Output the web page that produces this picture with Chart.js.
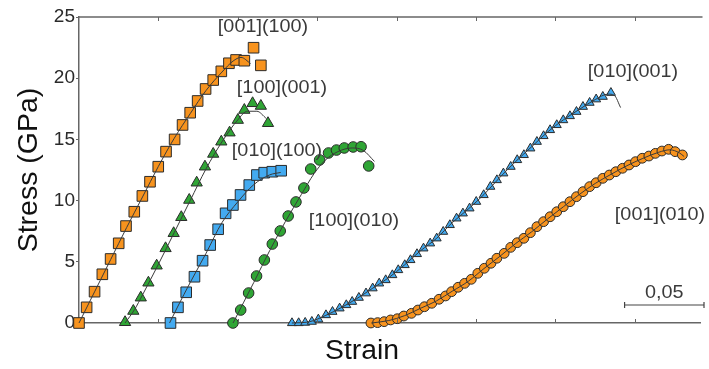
<!DOCTYPE html>
<html>
<head>
<meta charset="utf-8">
<script src="https://cdn.jsdelivr.net/npm/chart.js@4/dist/chart.umd.min.js"></script>
<style>
html,body{margin:0;padding:0;background:#fff;}
#wrap{width:709px;height:369px;}
</style>
</head>
<body>
<div id="wrap"><canvas id="c" width="709" height="369"></canvas></div>
<script>
// ---- Data (strain, stress GPa) ----
const s1Strain = [0,0.0048,0.0098,0.0147,0.0199,0.0250,0.0296,0.0348,0.0399,0.0447,0.0499,0.0548,0.0602,0.0652,0.0700,0.0747,0.0797,0.0845,0.0896,0.0944,0.0989,0.1041,0.1099,0.1145];
const s1Stress = [0,1.28,2.56,3.98,5.23,6.51,7.92,9.09,10.38,11.54,12.77,14.0,15.0,16.18,17.18,18.14,19.12,19.85,20.56,21.22,21.49,21.43,22.49,21.05];
const f1Strain = [0,0.01,0.02,0.03,0.04,0.05,0.06,0.07,0.08,0.09,0.097,0.102,0.108];
const f1Stress = [0,2.6,5.2,7.8,10.3,12.8,15.1,17.1,19.0,20.5,21.4,21.7,21.2];

const s2Strain = [0.0290,0.0342,0.0389,0.0437,0.0489,0.0545,0.0596,0.0644,0.0694,0.0741,0.0793,0.0845,0.0896,0.0948,0.1000,0.1041,0.1093,0.1145,0.1190];
const s2Stress = [0.06,0.98,2.07,3.29,4.68,6.10,7.33,8.64,10.05,11.46,12.77,13.81,14.81,15.55,16.58,17.40,17.95,17.73,16.32];
const f2Strain = [0.029,0.035,0.04,0.05,0.06,0.07,0.08,0.09,0.1,0.106,0.112,0.118];
const f2Stress = [0,1.1,2.3,4.8,7.4,10.0,12.6,14.8,16.6,17.3,17.3,16.7];

const s3Strain = [0.0576,0.0623,0.0675,0.0727,0.0778,0.0826,0.0876,0.0923,0.0969,0.1017,0.1072,0.1120,0.1166,0.1217,0.1273];
const s3Stress = [0,1.28,2.51,3.78,5.09,6.37,7.66,8.96,9.64,10.46,11.27,12.09,12.28,12.36,12.44];
const f3Strain = [0.057,0.062,0.07,0.08,0.09,0.1,0.11,0.12,0.127];
const f3Stress = [0,1.3,3.3,5.7,8.2,9.9,11.3,12.1,12.3];

const s4Strain = [0.0969,0.1018,0.1068,0.1118,0.1167,0.1217,0.1267,0.1317,0.1366,0.1416,0.1459,0.1515,0.1571,0.1621,0.1670,0.1726,0.1776,0.1824];
const s4Stress = [0,1.06,2.45,3.84,5.15,6.45,7.52,8.74,9.89,11.03,12.58,13.32,13.89,14.13,14.30,14.38,14.40,12.83];
const f4Strain = [0.097,0.11,0.12,0.13,0.14,0.148,0.155,0.163,0.172,0.179,0.186];
const f4Stress = [0,3.3,5.9,8.3,10.5,12.2,13.3,14.0,14.3,14.1,13.2];

const s5Strain = [0.1341,0.1383,0.1424,0.1466,0.1507,0.1555,0.1596,0.1641,0.1683,0.1720,0.1762,0.1807,0.1849,0.1890,0.1931,0.1973,0.2010,0.2051,0.2087,0.2128,0.2169,0.2211,0.2252,0.2293,0.2335,0.2377,0.2417,0.2459,0.2501,0.2548,0.2590,0.2631,0.2672,0.2718,0.2759,0.2801,0.2842,0.2883,0.2925,0.2966,0.3008,0.3049,0.3091,0.3132,0.3173,0.3215,0.3256,0.3298,0.3349];
const s5Stress = [0,0,0.03,0.11,0.30,0.65,0.92,1.20,1.47,1.74,2.07,2.43,2.84,3.24,3.51,3.92,4.33,4.74,5.15,5.64,6.10,6.51,6.92,7.46,8.01,8.55,8.96,9.37,9.91,10.46,11.14,11.68,12.23,12.77,13.32,13.73,14.27,14.81,15.28,15.77,16.18,16.58,16.91,17.26,17.67,18.00,18.28,18.49,18.81];
const f5Strain = [0.134,0.145,0.155,0.165,0.175,0.185,0.195,0.205,0.215,0.225,0.235,0.245,0.255,0.265,0.275,0.285,0.295,0.305,0.315,0.325,0.333,0.337,0.341];
const f5Stress = [0,0.1,0.6,1.25,2.0,2.85,3.7,4.75,5.9,6.9,8.2,9.3,10.5,11.9,13.2,14.4,15.6,16.6,17.45,18.25,18.7,18.6,17.6];

const s6Strain = [0.1838,0.1880,0.1921,0.1962,0.2004,0.2045,0.2093,0.2134,0.2175,0.2221,0.2267,0.2308,0.2346,0.2387,0.2428,0.2470,0.2511,0.2552,0.2594,0.2631,0.2677,0.2718,0.2759,0.2801,0.2842,0.2883,0.2925,0.2966,0.3008,0.3049,0.3091,0.3132,0.3173,0.3215,0.3256,0.3298,0.3339,0.3380,0.3422,0.3463,0.3504,0.3546,0.3588,0.3629,0.3670,0.3712,0.3753,0.3799];
const s6Stress = [0,0.03,0.11,0.25,0.35,0.57,0.79,1.06,1.33,1.61,1.94,2.21,2.56,2.92,3.24,3.57,4.06,4.47,4.88,5.29,5.69,6.18,6.56,6.92,7.38,7.87,8.28,8.68,9.09,9.50,9.91,10.32,10.73,11.14,11.46,11.82,12.09,12.36,12.64,12.91,13.18,13.46,13.64,13.86,14.05,14.19,14.00,13.73];
const f6Strain = [0.184,0.195,0.205,0.215,0.225,0.235,0.245,0.255,0.265,0.275,0.285,0.295,0.305,0.315,0.325,0.335,0.345,0.355,0.365,0.372,0.378,0.381];
const f6Stress = [0,0.2,0.6,1.2,1.8,2.6,3.4,4.45,5.45,6.5,7.45,8.5,9.5,10.5,11.4,12.15,12.85,13.45,13.95,14.15,13.9,13.6];

const seriesLabels = ['[001](100)','[100](001)','[010](100)','[100](010)','[010](001)','[001](010)'];
const yTicks = [0,5,10,15,20,25];
const xTickStep = 0.05;
const scaleBarValue = 0.05;
const scaleBarText = '0,05';
const xTitle = 'Strain';

// ---- build ----
const pts = (xs, ys) => xs.map((x, i) => ({x, y: ys[i]}));
const ORANGE = '#f7931e', GREEN = '#2fa535', BLUE = '#43aaf0', EDGE = '#2b2b2b', FIT = '#3a3a3a';
const FAM = '"Liberation Sans", Arial, sans-serif';

function markerDs(label, xs, ys, color, style, r) {
  return {label, data: pts(xs, ys), showLine: false, pointStyle: style, pointRadius: r,
    pointBackgroundColor: color, pointBorderColor: EDGE, pointBorderWidth: 1, order: 1, clip: false};
}
function fitDs(xs, ys) {
  return {label: 'fit', data: pts(xs, ys), showLine: true, pointRadius: 0, borderColor: FIT,
    borderWidth: 1, cubicInterpolationMode: 'monotone', order: 0, clip: false};
}

function wideText(ctx, t, cx, cy, sx) {
  ctx.save();
  ctx.translate(cx, cy);
  ctx.scale(sx, 1);
  ctx.fillText(t, 0, 0);
  ctx.restore();
}

const annot = {
  id: 'annot',
  afterDraw(chart) {
    const {ctx, chartArea: a, scales: {x, y}} = chart;
    ctx.save();
    // top border
    ctx.strokeStyle = '#666'; ctx.lineWidth = 1.5;
    ctx.beginPath(); ctx.moveTo(a.left, a.top); ctx.lineTo(a.right + 2, a.top); ctx.stroke();
    // inward x ticks top & bottom
    ctx.lineWidth = 1;
    for (let v = xTickStep; v <= x.max + 1e-9; v += xTickStep) {
      const px = Math.round(x.getPixelForValue(v)) + 0.5;
      ctx.beginPath();
      ctx.moveTo(px, a.top); ctx.lineTo(px, a.top + 4);
      ctx.moveTo(px, a.bottom); ctx.lineTo(px, a.bottom - 4);
      ctx.stroke();
    }
    // series labels
    ctx.fillStyle = '#3a3a3a';
    ctx.font = '18px ' + FAM;
    ctx.textAlign = 'center'; ctx.textBaseline = 'middle';
    const lp = [[263,27],[282,88],[277,151],[354,221],[633,72],[660,215]];
    seriesLabels.forEach((t, i) => wideText(ctx, t, lp[i][0], lp[i][1], 1.1));
    // scale bar
    const xr = 704, len = x.getPixelForValue(scaleBarValue) - x.getPixelForValue(0);
    const yb = 305;
    ctx.strokeStyle = '#444'; ctx.lineWidth = 1.2;
    ctx.beginPath();
    ctx.moveTo(xr - len, yb); ctx.lineTo(xr, yb);
    ctx.moveTo(xr - len, yb - 3); ctx.lineTo(xr - len, yb + 3);
    ctx.moveTo(xr, yb - 3); ctx.lineTo(xr, yb + 3);
    ctx.stroke();
    wideText(ctx, scaleBarText, xr - len / 2, 293, 1.1);
    // x title
    ctx.fillStyle = '#111';
    ctx.font = '27px ' + FAM;
    wideText(ctx, xTitle, 362, 352, 1.05);
    ctx.restore();
  }
};

new Chart(document.getElementById('c'), {
  type: 'scatter',
  data: {
    datasets: [
      fitDs(f1Strain, f1Stress), fitDs(f2Strain, f2Stress), fitDs(f3Strain, f3Stress),
      fitDs(f4Strain, f4Stress), fitDs(f5Strain, f5Stress), fitDs(f6Strain, f6Stress),
      markerDs(seriesLabels[0], s1Strain, s1Stress, ORANGE, 'rect', 7.5),
      markerDs(seriesLabels[1], s2Strain, s2Stress, GREEN, 'triangle', 6.5),
      markerDs(seriesLabels[2], s3Strain, s3Stress, BLUE, 'rect', 7.5),
      markerDs(seriesLabels[3], s4Strain, s4Stress, GREEN, 'circle', 5.3),
      markerDs(seriesLabels[4], s5Strain, s5Stress, BLUE, 'triangle', 5.2),
      markerDs(seriesLabels[5], s6Strain, s6Stress, ORANGE, 'circle', 4.9)
    ]
  },
  options: {
    responsive: false, animation: false,
    layout: {padding: {top: 17, right: 0, left: 0, bottom: 0}},
    plugins: {legend: {display: false}, tooltip: {enabled: false}},
    scales: {
      x: {
        type: 'linear', min: 0, max: 0.3913,
        ticks: {display: false},
        grid: {display: false},
        border: {display: true, color: '#666', width: 1.5},
        afterFit(s) { s.height = 46; }
      },
      y: {
        type: 'linear', min: 0, max: 25,
        afterBuildTicks(s) { s.ticks = yTicks.map(v => ({value: v})); },
        ticks: {color: '#2a2a2a', padding: 1, font: {size: 19, family: FAM}},
        grid: {drawOnChartArea: false, drawTicks: true, tickLength: 3, color: '#666'},
        border: {display: true, color: '#666', width: 1.5},
        title: {display: true, text: 'Stress (GPa)', color: '#111',
          font: {size: 28.5, family: FAM}, padding: {top: 12, bottom: 0}},
        afterFit(s) { s.width = 79; }
      }
    }
  },
  plugins: [annot]
});
</script>
</body>
</html>
